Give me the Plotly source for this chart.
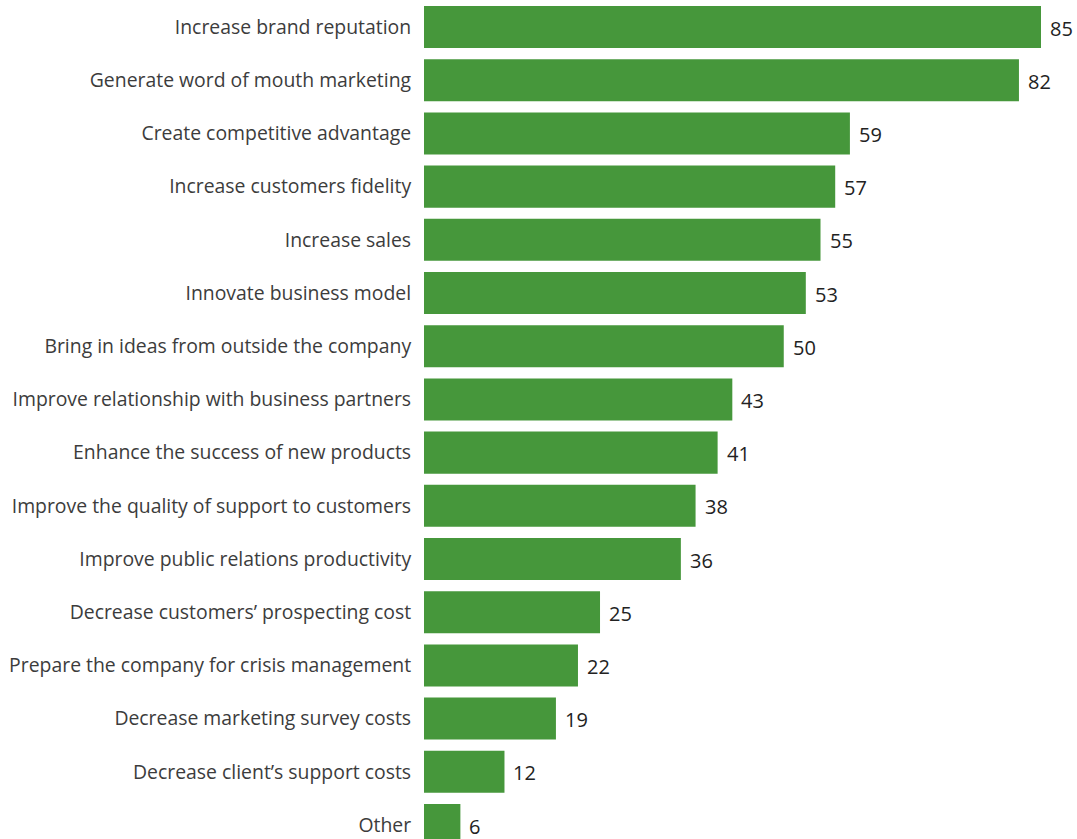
import plotly.graph_objects as go

# Survey answers: objectives of the company (percentage of respondents)
categories = [
    "Increase brand reputation",
    "Generate word of mouth marketing",
    "Create competitive advantage",
    "Increase customers fidelity",
    "Increase sales",
    "Innovate business model",
    "Bring in ideas from outside the company",
    "Improve relationship with business partners",
    "Enhance the success of new products",
    "Improve the quality of support to customers",
    "Improve public relations productivity",
    "Decrease customers\u2019 prospecting cost",
    "Prepare the company for crisis management",
    "Decrease marketing survey costs",
    "Decrease client\u2019s support costs",
    "Other",
]
values = [85, 82, 59, 57, 55, 53, 50, 43, 41, 38, 36, 25, 22, 19, 12, 6]

BAR_GREEN = "#46973B"
FONT = "Open Sans"

fig = go.Figure(
    go.Bar(
        x=values,
        y=categories,
        orientation="h",
        marker=dict(color=BAR_GREEN, line=dict(width=0)),
        hoverinfo="skip",
    )
)

# value labels just right of each bar
for cat, val in zip(categories, values):
    fig.add_annotation(
        x=val, y=cat, text=str(val), showarrow=False,
        xanchor="left", yanchor="middle", xshift=7, yshift=-1,
        font=dict(family=FONT, size=20, color="#222222"),
    )

fig.update_layout(
    width=1077, height=839,
    margin=dict(l=424, r=36, t=0, b=0),
    paper_bgcolor="white", plot_bgcolor="white",
    bargap=0.21,
    showlegend=False,
    font=dict(family=FONT, size=19, color="#3c3c3c"),
)
fig.update_xaxes(
    range=[1.05, 85], showgrid=False, zeroline=False,
    showticklabels=False, showline=False,
)
fig.update_yaxes(
    range=[15.263, -0.508], showgrid=False, zeroline=False, showline=False,
    ticks="outside", ticklen=8, tickcolor="rgba(0,0,0,0)",
    tickfont=dict(family=FONT, size=19.4, color="#3c3c3c"),
)

fig.write_html("out.html")
